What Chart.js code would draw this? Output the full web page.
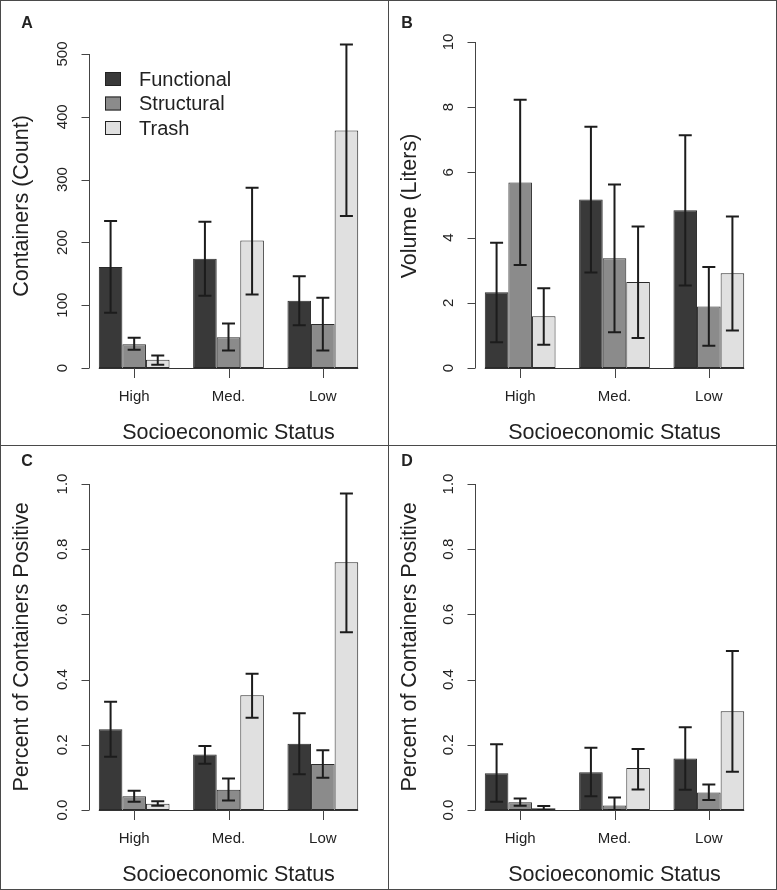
<!DOCTYPE html>
<html lang="en">

<head>
    <meta charset="UTF-8" />
    <title>Containers by Socioeconomic Status</title>
    <script src="https://cdn.jsdelivr.net/npm/chart.js"></script>
    <style>
        body { margin: 0; background: #fff; }
        .figure { position: relative; width: 777px; height: 890px; background: #fff; }
        .figure canvas { position: absolute; }
        .line { position: absolute; background: #4a4a4a; }
    </style>
</head>

<body>
    <div class="figure">
        <canvas id="panelA" width="388" height="445" style="left:0;top:0"></canvas>
        <canvas id="panelB" width="389" height="445" style="left:388px;top:0"></canvas>
        <canvas id="panelC" width="388" height="445" style="left:0;top:445px"></canvas>
        <canvas id="panelD" width="389" height="445" style="left:388px;top:445px"></canvas>
        <div class="line" style="left:0;top:0;width:777px;height:1px"></div>
        <div class="line" style="left:0;top:889px;width:777px;height:1px"></div>
        <div class="line" style="left:0;top:0;width:1px;height:890px"></div>
        <div class="line" style="left:776px;top:0;width:1px;height:890px"></div>
        <div class="line" style="left:388px;top:0;width:1px;height:890px"></div>
        <div class="line" style="left:0;top:445px;width:777px;height:1px"></div>
    </div>

    <script>
        // categories and series
        const statusLabels = ['High', 'Med.', 'Low'];
        const typeNames = ['Functional', 'Structural', 'Trash'];

        // A: containers (count) - one row per type, one value per status
        const countMean = [[161, 174, 107], [38, 49, 70], [13, 203, 378]];
        const countLow = [[88, 115, 68], [29, 28, 28], [5, 117, 242]];
        const countHigh = [[234, 233, 146], [48, 71, 112], [20, 287, 515]];
        const countTicks = [0, 100, 200, 300, 400, 500];

        // B: volume (liters)
        const volumeMean = [[2.32, 5.17, 4.84], [5.69, 3.37, 1.89], [1.59, 2.64, 2.91]];
        const volumeLow = [[0.79, 2.93, 2.53], [3.16, 1.10, 0.68], [0.71, 0.92, 1.15]];
        const volumeHigh = [[3.84, 7.40, 7.14], [8.23, 5.63, 3.10], [2.45, 4.34, 4.65]];
        const volumeTicks = [0, 2, 4, 6, 8, 10];

        // C: percent of containers positive
        const positiveCMean = [[0.248, 0.170, 0.203], [0.042, 0.062, 0.141], [0.019, 0.352, 0.760]];
        const positiveCLow = [[0.163, 0.142, 0.110], [0.025, 0.029, 0.099], [0.013, 0.283, 0.545]];
        const positiveCHigh = [[0.332, 0.196, 0.297], [0.059, 0.097, 0.183], [0.027, 0.418, 0.971]];

        // D: percent of containers positive
        const positiveDMean = [[0.113, 0.116, 0.158], [0.024, 0.014, 0.054], [0.005, 0.129, 0.303]];
        const positiveDLow = [[0.025, 0.042, 0.062], [0.013, 0.0, 0.031], [0.0, 0.063, 0.117]];
        const positiveDHigh = [[0.202, 0.191, 0.254], [0.035, 0.038, 0.078], [0.012, 0.187, 0.488]];
        const percentTicks = [0, 0.2, 0.4, 0.6, 0.8, 1.0];

        const typeColors = ['#393939', '#8b8b8b', '#e0e0e0'];
        const FONT = "'Liberation Sans', Arial, Helvetica, sans-serif";
        const INK = '#222';

        // R-style axes, error bars and legend
        const rStyle = {
            id: 'rStyle',
            afterDatasetsDraw(chart, args, o) {
                const ctx = chart.ctx;
                const xs = chart.scales.x;
                const ys = chart.scales.y;
                const area = chart.chartArea;
                const y0 = ys.getPixelForValue(0);
                ctx.save();

                // error bars
                ctx.strokeStyle = '#1c1c1c';
                ctx.lineWidth = 2;
                chart.data.datasets.forEach((ds, i) => {
                    chart.getDatasetMeta(i).data.forEach((bar, j) => {
                        const yl = ys.getPixelForValue(o.lows[i][j]);
                        const yh = ys.getPixelForValue(o.highs[i][j]);
                        ctx.beginPath();
                        ctx.moveTo(bar.x, yl); ctx.lineTo(bar.x, yh);
                        ctx.moveTo(bar.x - 6.5, yl); ctx.lineTo(bar.x + 6.5, yl);
                        ctx.moveTo(bar.x - 6.5, yh); ctx.lineTo(bar.x + 6.5, yh);
                        ctx.stroke();
                    });
                });

                // baseline under the bars
                const first = chart.getDatasetMeta(0).data[0];
                const last = chart.getDatasetMeta(2).data[2];
                ctx.strokeStyle = '#333';
                ctx.lineWidth = 1;
                ctx.beginPath();
                ctx.moveTo(first.x - first.width / 2, Math.round(y0) + 0.5);
                ctx.lineTo(last.x + last.width / 2, Math.round(y0) + 0.5);
                ctx.stroke();

                // y axis
                const ax = Math.round(area.left - o.axisGap) + 0.5;
                ctx.strokeStyle = '#444';
                ctx.beginPath();
                ctx.moveTo(ax, ys.getPixelForValue(o.ticks[o.ticks.length - 1]));
                ctx.lineTo(ax, y0);
                o.ticks.forEach(t => {
                    const ty = Math.round(ys.getPixelForValue(t)) + 0.5;
                    ctx.moveTo(ax, ty);
                    ctx.lineTo(ax - 8, ty);
                });
                ctx.stroke();
                ctx.fillStyle = INK;
                ctx.font = '15px ' + FONT;
                ctx.textAlign = 'center';
                ctx.textBaseline = 'middle';
                o.ticks.forEach(t => {
                    ctx.save();
                    ctx.translate(ax - 27, ys.getPixelForValue(t));
                    ctx.rotate(-Math.PI / 2);
                    ctx.fillText(o.tickFormat(t), 0, 0);
                    ctx.restore();
                });

                // x axis ticks and labels
                ctx.beginPath();
                statusLabels.forEach((s, j) => {
                    const tx = Math.round(xs.getPixelForValue(j)) + 0.5;
                    ctx.moveTo(tx, y0);
                    ctx.lineTo(tx, y0 + 10);
                });
                ctx.stroke();
                statusLabels.forEach((s, j) => {
                    ctx.fillText(s, xs.getPixelForValue(j), y0 + 29);
                });

                // axis titles
                ctx.font = '21.5px ' + FONT;
                ctx.fillText('Socioeconomic Status', (area.left + area.right) / 2, y0 + 65);
                ctx.save();
                ctx.translate(22, o.titleY);
                ctx.rotate(-Math.PI / 2);
                ctx.fillText(o.yTitle, 0, 0);
                ctx.restore();

                // panel letter
                ctx.font = 'bold 16px ' + FONT;
                ctx.fillText(o.letter, o.letterX, o.letterY);

                // legend
                if (o.legend) {
                    ctx.font = '20px ' + FONT;
                    ctx.textAlign = 'left';
                    typeNames.forEach((name, i) => {
                        const ly = 79 + i * 24.5;
                        ctx.fillStyle = typeColors[i];
                        ctx.fillRect(105, ly - 7, 16, 14);
                        ctx.strokeStyle = '#222';
                        ctx.strokeRect(105.5, ly - 6.5, 15, 13);
                        ctx.fillStyle = INK;
                        ctx.fillText(name, 139, ly + 1);
                    });
                }
                ctx.restore();
            }
        };

        function makePanel(id, setup) {
            const datasets = typeNames.map((name, i) => ({
                label: name,
                data: setup.means[i],
                backgroundColor: typeColors[i],
                borderColor: '#2a2a2a',
                borderWidth: 1,
                borderSkipped: false,
                categoryPercentage: 0.75,
                barPercentage: 1.0
            }));
            return new Chart(document.getElementById(id), {
                type: 'bar',
                data: { labels: statusLabels, datasets },
                options: {
                    responsive: false,
                    animation: false,
                    layout: { padding: setup.padding },
                    scales: {
                        x: { display: false },
                        y: { display: false, min: 0, max: setup.ticks[setup.ticks.length - 1] }
                    },
                    plugins: {
                        legend: { display: false },
                        tooltip: { enabled: false },
                        rStyle: setup
                    }
                },
                plugins: [rStyle]
            });
        }

        const oneDecimal = t => t.toFixed(1);

        makePanel('panelA', {
            letter: 'A', letterX: 27, letterY: 24, legend: true,
            yTitle: 'Containers (Count)', titleY: 206,
            means: countMean, lows: countLow, highs: countHigh,
            ticks: countTicks, tickFormat: t => String(t),
            padding: { left: 87, right: 18, top: 54, bottom: 77 }, axisGap: -2
        });

        makePanel('panelB', {
            letter: 'B', letterX: 19, letterY: 24, legend: false,
            yTitle: 'Volume (Liters)', titleY: 206,
            means: volumeMean, lows: volumeLow, highs: volumeHigh,
            ticks: volumeTicks, tickFormat: t => String(t),
            padding: { left: 85, right: 21, top: 42, bottom: 77 }, axisGap: -2
        });

        makePanel('panelC', {
            letter: 'C', letterX: 27, letterY: 17, legend: false,
            yTitle: 'Percent of Containers Positive', titleY: 202,
            means: positiveCMean, lows: positiveCLow, highs: positiveCHigh,
            ticks: percentTicks, tickFormat: oneDecimal,
            padding: { left: 87, right: 18, top: 39, bottom: 80 }, axisGap: -2
        });

        makePanel('panelD', {
            letter: 'D', letterX: 19, letterY: 17, legend: false,
            yTitle: 'Percent of Containers Positive', titleY: 202,
            means: positiveDMean, lows: positiveDLow, highs: positiveDHigh,
            ticks: percentTicks, tickFormat: oneDecimal,
            padding: { left: 85, right: 21, top: 39, bottom: 80 }, axisGap: -2
        });
    </script>
</body>

</html>
